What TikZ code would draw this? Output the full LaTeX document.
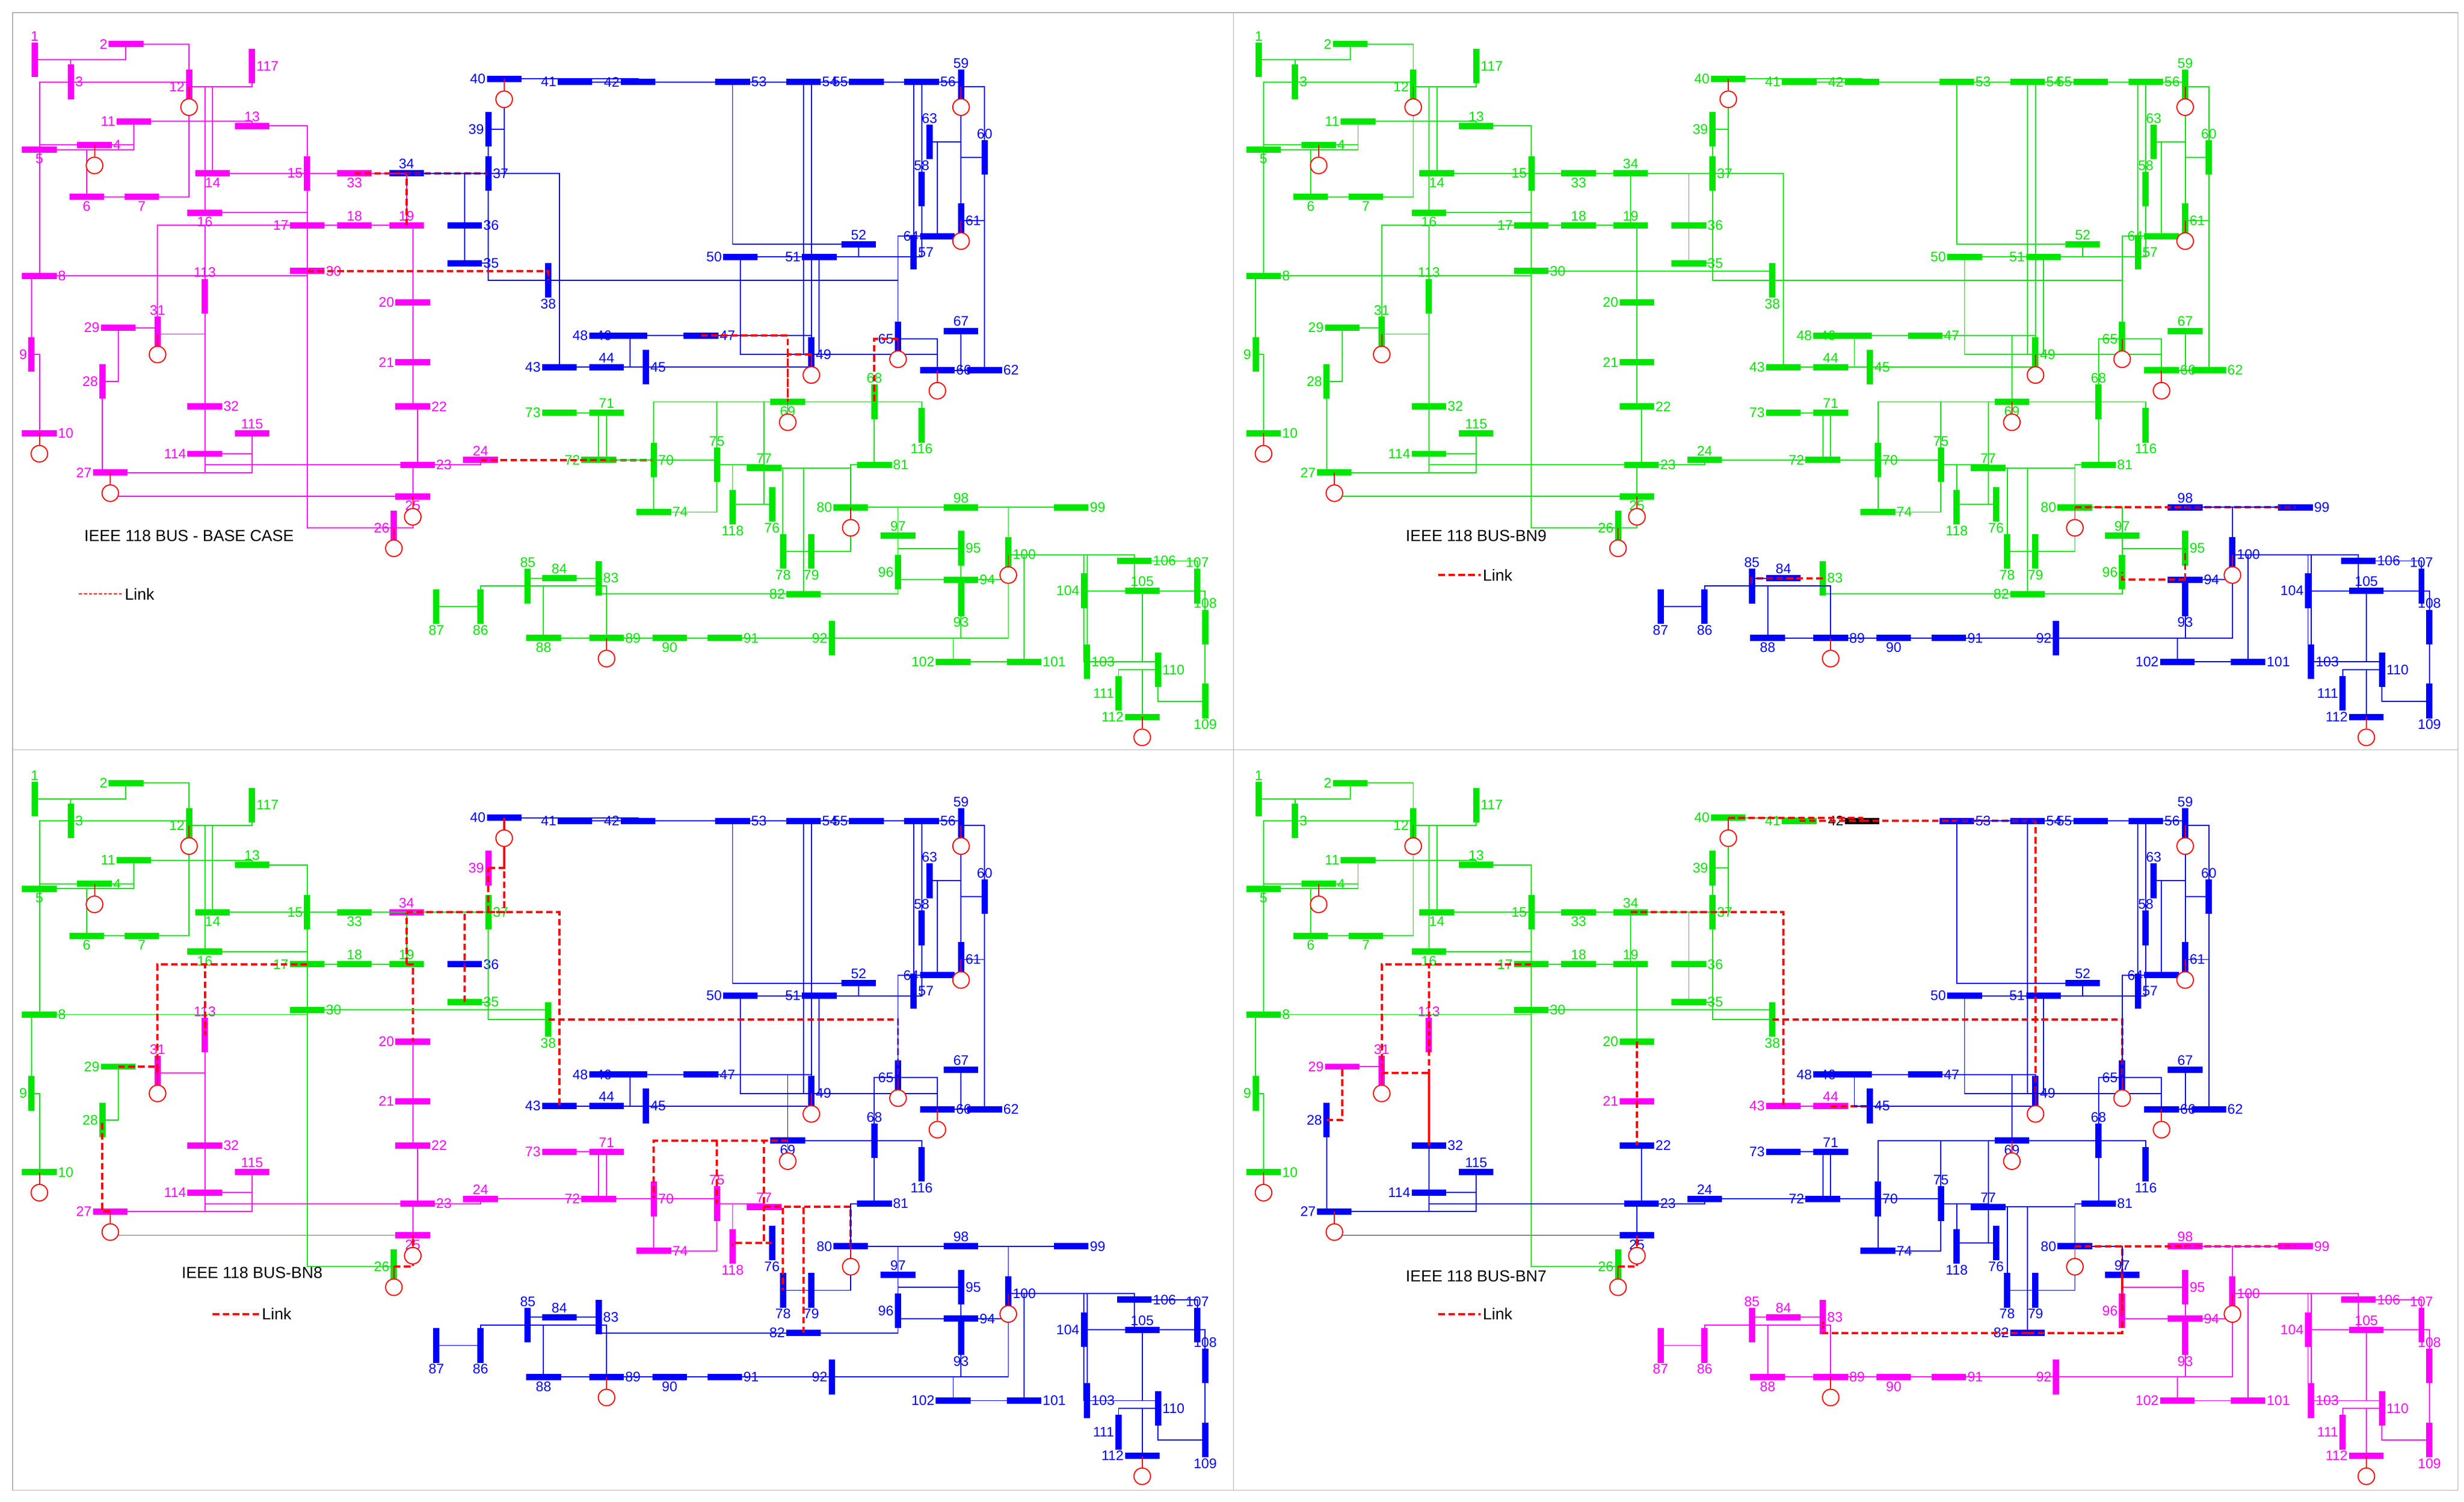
\documentclass[tikz,border=0pt]{standalone}
\usepackage{fontspec}
\setmainfont{Liberation Sans}
\definecolor{mg}{RGB}{255,0,255}
\definecolor{bl}{RGB}{0,0,255}
\definecolor{gr}{RGB}{0,230,0}
\definecolor{bk}{RGB}{0,0,0}
\def\busdata{1/22/38/v/above,2/80/28/h/left,3/45/52/v/right,4/60/92/h/right,5/25/95/h/below,6/55/125/h/below,7/90/125/h/below,8/25/175/h/right,9/20/225/v/left,10/25/275/h/right,11/85/77/h/left,12/120/55/v/left,13/160/80/h/above,14/135/110/h/below,15/195/110/v/left,16/130/135/h/below,17/195/143/h/left,18/225/143/h/above,19/258/143/h/above,20/262/192/h/left,21/262/230/h/left,22/262/258/h/right,23/265/295/h/right,24/305/292/h/above,25/262/315/h/below,26/250/335/v/left,27/70/300/h/left,28/65/242/v/left,29/75/208/h/left,30/195/172/h/right,31/100/212/v/above,32/130/258/h/right,33/225/110/h/below,34/258/110/h/above,35/295/167/h/right,36/295/143/h/right,37/310/110/v/right,38/348/178/v/below,39/310/82/v/left,40/320/50/h/left,41/365/52/h/left,42/405/52/h/left,43/355/233/h/left,44/385/233/h/above,45/410/233/v/right,46/400/213/h/left,47/445/213/h/right,48/385/213/h/left,49/515/225/v/right,50/470/163/h/left,51/520/163/h/left,52/545/155/h/above,53/465/52/h/right,54/510/52/h/right,55/550/52/h/left,56/585/52/h/right,57/580/160/v/right,58/585/120/v/above,59/610/55/v/above,60/625/100/v/above,61/610/140/v/right,62/625/235/h/right,63/590/90/v/above,64/595/150/h/left,65/570/215/v/left,66/595/235/h/right,67/610/210/h/above,68/555/255/v/above,69/500/255/h/below,70/415/292/v/right,71/385/262/h/above,72/380/292/h/left,73/355/262/h/left,74/415/325/h/right,75/455/295/v/above,76/490/320/v/below,77/485/297/h/above,78/497/350/v/below,79/515/350/v/below,80/540/322/h/left,81/555/295/h/right,82/510/377/h/left,83/380/367/v/right,84/355/367/h/above,85/335/372/v/above,86/305/385/v/below,87/277/385/v/below,88/345/405/h/below,89/385/405/h/right,90/425/405/h/below,91/460/405/h/right,92/528/405/v/left,93/610/380/v/below,94/610/368/h/right,95/610/348/v/right,96/570/363/v/left,97/570/340/h/above,98/610/322/h/above,99/680/322/h/right,100/640/352/v/right,101/650/420/h/right,102/605/420/h/left,103/690/420/v/right,104/688/375/v/left,105/725/375/h/above,106/720/356/h/right,107/760/372/v/above,108/765/398/v/above,109/765/445/v/below,110/735/425/v/right,111/710/440/v/left,112/725/455/h/left,113/130/188/v/above,114/130/288/h/left,115/160/275/h/above,116/585/270/v/below,117/160/42/v/right,118/465/322/v/below}
\def\edgedata{1/2,1/3,4/5,3/5,5/6,6/7,8/9,8/5,9/10,4/11,5/11,11/12,2/12,3/12,7/12,11/13,12/14,13/15,14/15,12/16,15/17,16/17,17/18,18/19,19/20,15/19,20/21,21/22,22/23,23/24,23/25,26/25,25/27,27/28,28/29,30/17,8/30,26/30,17/31,29/31,23/32,31/32,27/32,15/33,19/34,35/36,35/37,33/37,34/36,34/37,38/37,37/39,37/40,30/38,39/40,40/41,40/42,41/42,43/44,34/43,44/45,45/46,46/47,46/48,47/49,42/49,45/49,48/49,49/50,49/51,51/52,52/53,53/54,49/54,54/55,54/56,55/56,56/57,50/57,56/58,51/58,54/59,56/59,55/59,59/60,59/61,60/61,60/62,61/62,63/59,63/64,64/61,38/65,64/65,49/66,62/66,62/67,65/66,66/67,65/68,47/69,49/69,68/69,69/70,24/70,70/71,24/72,71/72,71/73,70/74,70/75,69/75,74/75,76/77,69/77,75/77,77/78,78/79,77/80,79/80,68/81,81/80,77/82,82/83,83/84,83/85,84/85,85/86,86/87,85/88,85/89,88/89,89/90,90/91,89/92,91/92,92/93,92/94,93/94,94/95,80/96,82/96,94/96,80/97,80/98,80/99,92/100,94/100,95/96,96/97,98/100,99/100,100/101,92/102,101/102,100/103,100/104,103/104,103/105,100/106,104/105,105/106,105/107,105/108,106/107,108/109,103/110,109/110,110/111,110/112,17/113,32/113,32/114,27/115,114/115,68/116,12/117,75/118,76/118}
\def\gendata{4,10,12,25,26,27,31,40,49,59,61,65,66,69,80,89,100,112}
\def\setc#1#2#3{\foreach \b in {#2}{\expandafter\xdef\csname bc#1-\b\endcsname{#3}}}
\setc{1}{1,...,118}{gr}\setc{1}{1,...,33,113,114,115,117}{mg}\setc{1}{34,...,67}{bl}
\setc{2}{1,...,118}{gr}\setc{2}{84,...,94,98,99,...,112}{bl}
\setc{3}{1,...,118}{bl}\setc{3}{1,...,19,26,28,29,30,33,35,37,38,117}{gr}\setc{3}{20,...,25,27,31,32,34,39,70,71,...,75,77,113,114,115,118}{mg}
\setc{4}{1,...,118}{bl}\setc{4}{1,...,20,26,30,33,34,...,41,117}{gr}\setc{4}{21,29,31,43,44,113,83,84,...,96,98,99,...,112}{mg}\setc{4}{42}{bk}
\begin{document}
\begin{tikzpicture}[x=0.1cm,y=-0.1cm,
 bush/.style={draw=none,rectangle,inner sep=0pt,minimum width=2.2cm,minimum height=0.4cm},
 busv/.style={draw=none,rectangle,inner sep=0pt,minimum height=2.2cm,minimum width=0.4cm},
 lbl/.style={font=\fontsize{25}{27}\selectfont,inner sep=2pt},
 ln/.style={line width=2pt},
 link/.style={red,line width=4pt,dash pattern=on 12pt off 6pt},
 gen/.style={circle,draw=red,line width=2pt,minimum size=1.05cm,inner sep=0pt,fill=white},
 ttl/.style={font=\fontsize{29}{31}\selectfont}]
\useasboundingbox (0,0) rectangle (1564,953);
\fill[white] (0,0) rectangle (1564,953);
\draw[gray!60,line width=1.2pt] (8,8) rectangle (1560,946) (783,8) -- (783,946) (8,476) -- (1560,476);
\foreach \p/\dx/\dy in {1/0/0,2/777/0,3/0/469,4/777/469}{
\begin{scope}[shift={(\dx,\dy)}]
\foreach \n/\x/\y/\o/\lp in \busdata{
 \edef\cc{\csname bc\p-\n\endcsname}
 \node[bus\o,fill=\cc,label={[lbl,text=\cc]\lp:\n}] (p\p b\n) at (\x,\y) {};}
\foreach \a/\b in \edgedata{
 \edef\ca{\csname bc\p-\a\endcsname}\edef\cb{\csname bc\p-\b\endcsname}
 \ifx\ca\cb \draw[ln,\ca] (p\p b\a.center) -| (p\p b\b.center);
 \else \draw[link] (p\p b\a.center) -| (p\p b\b.center);\fi}
\foreach \g in \gendata{
 \node[gen] (p\p g\g) at ([yshift=-1.3cm]p\p b\g.center) {};
 \draw[red,line width=2pt] (p\p b\g.center) -- (p\p g\g);}
\end{scope}}
\node[ttl] (t1) at (120,340) {IEEE 118 BUS - BASE CASE};
\coordinate (l1a) at (50,377);\coordinate (l1b) at (78,377);
\draw[red,line width=2pt,dash pattern=on 6pt off 3pt] (l1a) -- (l1b);
\node[ttl,anchor=west] (k1) at (l1b) {Link};
\node[ttl] (t2) at (937,340) {IEEE 118 BUS-BN9};
\coordinate (l2a) at (913,365);\coordinate (l2b) at (940,365);
\draw[link] (l2a) -- (l2b);\node[ttl,anchor=west] (k2) at (l2b) {Link};
\node[ttl] (t3) at (160,808) {IEEE 118 BUS-BN8};
\coordinate (l3a) at (135,834);\coordinate (l3b) at (165,834);
\draw[link] (l3a) -- (l3b);\node[ttl,anchor=west] (k3) at (l3b) {Link};
\node[ttl] (t4) at (937,810) {IEEE 118 BUS-BN7};
\coordinate (l4a) at (913,834);\coordinate (l4b) at (940,834);
\draw[link] (l4a) -- (l4b);\node[ttl,anchor=west] (k4) at (l4b) {Link};
\end{tikzpicture}
\end{document}
